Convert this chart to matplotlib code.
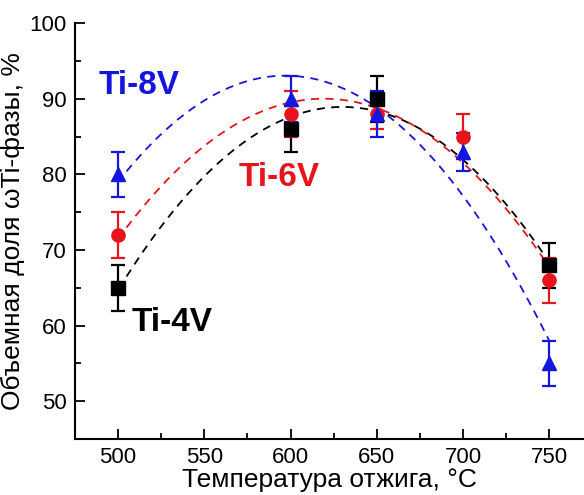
import matplotlib
matplotlib.use("Agg")
import matplotlib.pyplot as plt
import numpy as np
from matplotlib.ticker import MultipleLocator

plt.rcParams['font.family'] = ['Liberation Sans', 'DejaVu Sans']

# температура отжига, °C
temp = [500, 600, 650, 700, 750]
temp_4v = [500, 600, 650, 750]

# объемная доля omega-фазы, %
ti4v = [65, 86, 90, 68]
ti4v_err = [3, 3, 3, 3]
ti6v = [72, 88, 88, 85, 66]
ti6v_err = [3, 3, 2, 3, 3]
ti8v = [80, 90, 88, 83, 55]
ti8v_err = [3, 3, 3, 2.5, 3]

series = [
    (temp_4v, ti4v, ti4v_err, 'black', 's', 'Ti-4V'),
    (temp, ti6v, ti6v_err, '#e8141b', 'o', 'Ti-6V'),
    (temp, ti8v, ti8v_err, '#1515e0', '^', 'Ti-8V'),
]

fig = plt.figure(figsize=(5.84, 4.95), dpi=100)
ax = fig.add_axes([0.128, 0.113, 0.872, 0.84])

xs = np.linspace(505, 750, 200)
for t, y, err, c, m, name in series:
    # квадратичная аппроксимация
    p = np.polyfit(t, y, 2)
    ax.plot(xs, np.polyval(p, xs), '--', color=c, lw=1.3, dashes=(4.5, 3.5))
for t, y, err, c, m, name in series:
    ax.errorbar(t, y, yerr=err, fmt=m, color=c, ms=9.5, capsize=5,
                elinewidth=1.6, capthick=1.6, ls='none')

ax.text(489, 91.8, 'Ti-8V', color='#1515e0', fontsize=24, fontweight='bold', va='center')
ax.text(570, 79.6, 'Ti-6V', color='#e8141b', fontsize=24, fontweight='bold', va='center')
ax.text(508, 60.4, 'Ti-4V', color='black', fontsize=24, fontweight='bold', va='center')

ax.set_xlim(475, 770)
ax.set_ylim(45, 100)
ax.xaxis.set_major_locator(MultipleLocator(50))
ax.xaxis.set_minor_locator(MultipleLocator(25))
ax.yaxis.set_major_locator(MultipleLocator(10))
ax.yaxis.set_minor_locator(MultipleLocator(5))
ax.tick_params(which='both', direction='in', width=1.3, labelsize=16)
ax.tick_params(which='major', length=7)
ax.tick_params(which='minor', length=4)
ax.tick_params(axis='x', pad=6)
ax.tick_params(axis='y', pad=6)
for s in ['top', 'right']:
    ax.spines[s].set_visible(False)
for s in ['left', 'bottom']:
    ax.spines[s].set_linewidth(1.5)

ax.set_xlabel('Температура отжига, °C', fontsize=19, labelpad=0)
ax.set_ylabel('Объемная доля ωTi-фазы, %', fontsize=19, labelpad=3)

fig.savefig('out.png', dpi=100)
